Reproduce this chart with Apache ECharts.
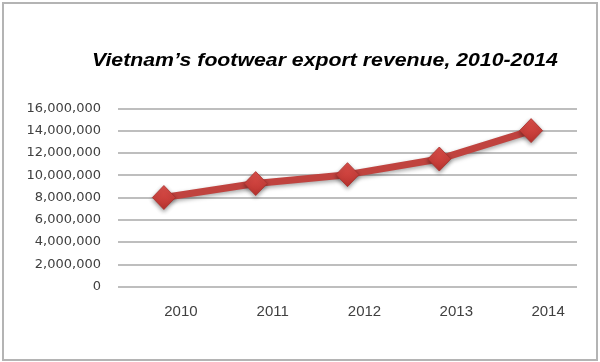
<!DOCTYPE html>
<html>
<head>
<meta charset="utf-8">
<script src="https://cdn.jsdelivr.net/npm/echarts@6/dist/echarts.min.js"></script>
<style>html,body{margin:0;padding:0;background:#fff}#c{width:600px;height:362px}</style>
</head>
<body>
<div id="c"></div>
<script>
var titleText = 'Vietnam\u2019s footwear export revenue, 2010-2014';
var years = ['2010', '2011', '2012', '2013', '2014'];
var revenue = [8000000, 9250000, 10050000, 11450000, 14000000];

var chart = echarts.init(document.getElementById('c'), null, {renderer: 'canvas'});
chart.setOption({
  animation: false,
  backgroundColor: '#ffffff',
  graphic: [{
    type: 'rect', shape: {x: 3, y: 3, width: 594, height: 357},
    style: {fill: 'none', stroke: '#b4b4b4', lineWidth: 2}, silent: true, z: 100
  }, {
    type: 'text', x: 325, y: 61, scaleX: 1.15,
    style: {text: titleText, align: 'center', verticalAlign: 'middle',
      fontFamily: 'Liberation Sans, Arial', fontStyle: 'italic', fontWeight: 'bold', fontSize: 18.5, fill: '#000'}
  }],
  grid: {left: 118, right: 23, top: 108.3, bottom: 362 - 286.7},
  xAxis: {
    type: 'category', data: years, boundaryGap: true,
    axisLine: {show: false}, axisTick: {show: false},
    axisLabel: {margin: 18, padding: [0, 0, 0, 34], fontFamily: 'Liberation Sans, Arial', fontSize: 15, color: '#404040'}
  },
  yAxis: {
    type: 'value', min: 0, max: 16000000, interval: 2000000,
    axisLine: {show: false}, axisTick: {show: false},
    axisLabel: {margin: 17, fontFamily: 'DejaVu Sans, Verdana', fontSize: 13, color: '#404040',
      formatter: function (v) { return v.toString().replace(/\B(?=(\d{3})+(?!\d))/g, ','); }},
    splitLine: {lineStyle: {color: '#a8a8a8', width: 1.5}}
  },
  series: [{
    type: 'line', data: revenue,
    symbol: 'diamond', symbolSize: [23, 24],
    lineStyle: {color: '#c0433f', width: 7, shadowColor: 'rgba(0,0,0,0.35)', shadowBlur: 4, shadowOffsetY: 2},
    itemStyle: {
      color: new echarts.graphic.LinearGradient(0, 0, 0, 1, [{offset: 0, color: '#e0514c'}, {offset: 1, color: '#b8322e'}]),
      borderColor: '#a8302c', borderWidth: 0.8,
      shadowColor: 'rgba(0,0,0,0.4)', shadowBlur: 4, shadowOffsetY: 2
    }
  }]
});
</script>
</body>
</html>
